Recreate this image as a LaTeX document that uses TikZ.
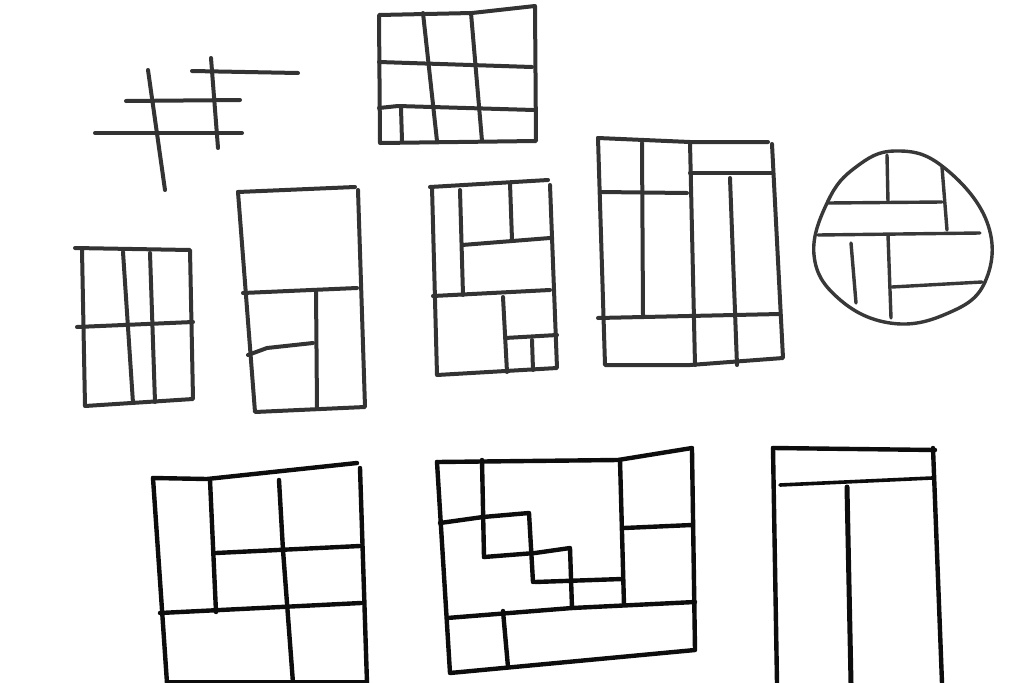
\documentclass[tikz,border=0pt]{standalone}
\begin{document}
\begin{tikzpicture}[x=1pt,y=-1pt,
  pencil/.style={draw=black!80, line width=4pt, line cap=round, line join=round},
  pencilthin/.style={draw=black!78, line width=3.4pt, line cap=round, line join=round},
  ink/.style={draw=black!95, line width=4.4pt, line cap=round, line join=round}]
\useasboundingbox[fill=white] (0,0) rectangle (1034,683);
% hash
\draw[pencil] (148,70) -- (165,190);
\draw[pencil] (211,58) -- (218,148);
\draw[pencil] (192,71) -- (298,73);
\draw[pencil] (126,101) -- (240,100);
\draw[pencil] (95,133) -- (242,133);
% top grid
\draw[pencil] (379,15) -- (472,13) -- (535,6) -- (536,141) -- (380,143) -- cycle;
\draw[pencil] (423,13) -- (437,141);
\draw[pencil] (471,13) -- (482,141);
\draw[pencil] (379,62) -- (532,67);
\draw[pencil] (379,108) -- (398,106) -- (534,110);
\draw[pencil] (401,108) -- (402,141);
% left small grid
\draw[pencil] (75,248) -- (190,250) -- (193,399) -- (85,406) -- (82,250);
\draw[pencil] (77,327) -- (193,322);
\draw[pencil] (123,252) -- (133,403);
\draw[pencil] (150,253) -- (155,402);
% second
\draw[pencil] (238,192) -- (355,187);
\draw[pencil] (238,192) -- (255,412) -- (365,407) -- (358,190);
\draw[pencil] (243,293) -- (357,288);
\draw[pencil] (316,290) -- (317,408);
\draw[pencil] (248,355) -- (267,348) -- (313,343);
% third
\draw[pencil] (430,187) -- (548,180);
\draw[pencil] (432,187) -- (437,375) -- (557,368) -- (550,185);
\draw[pencil] (460,190) -- (463,295);
\draw[pencil] (510,183) -- (512,240);
\draw[pencil] (462,245) -- (550,238);
\draw[pencil] (433,296) -- (550,290);
\draw[pencil] (503,297) -- (507,372);
\draw[pencil] (505,338) -- (557,335);
\draw[pencil] (532,340) -- (533,370);
% fourth
\draw[pencil] (598,138) -- (690,142) -- (768,142);
\draw[pencil] (598,138) -- (605,365) -- (690,365) -- (783,358) -- (772,144);
\draw[pencil] (690,142) -- (695,365);
\draw[pencil] (642,143) -- (643,315);
\draw[pencil] (600,192) -- (687,193);
\draw[pencil] (690,173) -- (772,173);
\draw[pencil] (730,178) -- (737,365);
\draw[pencil] (598,318) -- (780,314);
% circle
\draw[pencilthin] plot[smooth cycle, tension=0.7] coordinates {(895,151) (942,166) (987,222) (985,282) (946,314) (890,323) (838,298) (814,255) (828,201) (856,167)};
\draw[pencilthin] (887,155) -- (888,202);
\draw[pencilthin] (942,167) -- (947,230);
\draw[pencilthin] (828,203) -- (942,202);
\draw[pencilthin] (818,235) -- (980,233);
\draw[pencilthin] (888,235) -- (891,318);
\draw[pencilthin] (851,243) -- (856,303);
\draw[pencilthin] (892,287) -- (982,282);
% bottom left
\draw[ink] (153,478) -- (207,479) -- (357,463);
\draw[ink] (153,478) -- (167,683);
\draw[ink] (360,468) -- (367,683);
\draw[ink] (167,682) -- (367,682);
\draw[ink] (210,480) -- (216,612);
\draw[ink] (279,480) -- (283,550) -- (293,683);
\draw[ink] (216,553) -- (360,546);
\draw[ink] (160,613) -- (361,603);
% bottom middle
\draw[ink] (437,462) -- (618,460) -- (692,448);
\draw[ink] (437,462) -- (450,673) -- (695,650) -- (692,450);
\draw[ink] (482,460) -- (484,557);
\draw[ink] (440,523) -- (483,517) -- (529,513) -- (533,582);
\draw[ink] (484,557) -- (535,553) -- (570,548) -- (572,608);
\draw[ink] (535,582) -- (622,579);
\draw[ink] (620,460) -- (624,605);
\draw[ink] (624,528) -- (692,525);
\draw[ink] (447,618) -- (572,608) -- (695,602);
\draw[ink] (503,611) -- (508,667);
% bottom right
\draw[ink] (773,448) -- (935,450);
\draw[ink] (773,448) -- (777,683);
\draw[ink] (933,448) -- (942,683);
\draw[ink, line width=3.6pt] (780,485) -- (932,478);
\draw[ink, line width=5pt] (847,487) -- (851,683);
\end{tikzpicture}
\end{document}
